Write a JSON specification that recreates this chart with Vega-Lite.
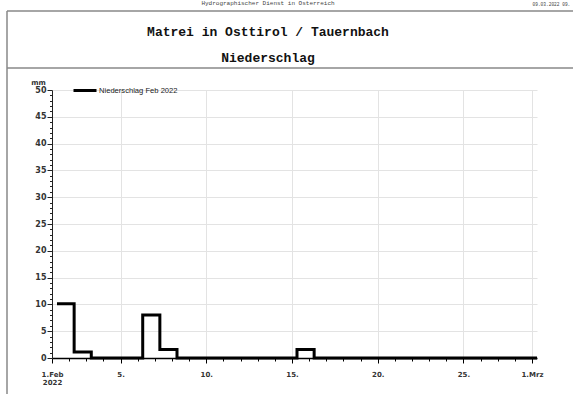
{
  "$schema": "https://vega.github.io/schema/vega-lite/v6.json",
  "width": 485,
  "height": 268,
  "autosize": {"type": "none"},
  "padding": {"left": 52, "top": 90, "right": 36, "bottom": 36},
  "background": "white",
  "config": {"view": {"stroke": null}},
  "title": {
    "text": "Hydrographischer Dienst in Osterreich",
    "subtitle": ["Matrei in Osttirol / Tauernbach", "Niederschlag"],
    "anchor": "middle",
    "frame": "group",
    "dx": -26.5,
    "offset": -63.5,
    "font": "Liberation Mono",
    "fontSize": 6,
    "fontWeight": "normal",
    "color": "#444",
    "subtitleFont": "Liberation Mono",
    "subtitleFontSize": 13,
    "subtitleFontWeight": "bold",
    "subtitleColor": "#111",
    "subtitleLineHeight": 25.5,
    "subtitlePadding": 20
  },
  "resolve": {"axis": {"x": "independent", "y": "independent"}},
  "layer": [
    {
      "data": {"values": [{}]},
      "mark": {"type": "rule", "color": "#888", "strokeWidth": 1.5},
      "encoding": {
        "x": {"datum": {"year": 2022, "month": 1, "date": 29, "hours": 9}, "type": "temporal",
          "axis": {"orient": "top", "domain": false, "ticks": false, "labels": false, "grid": false,
            "title": "09.03.2022 09.", "titleX": 480, "titleY": -85, "titleAlign": "left", "titleBaseline": "alphabetic", "titleAngle": 0,
            "titleFont": "Liberation Mono", "titleFontSize": 4.5, "titleFontWeight": "normal", "titleColor": "#444"}},
        "x2": {"datum": {"year": 2022, "month": 3, "date": 6}},
        "y": {"datum": 64.74, "type": "quantitative", "axis": null}
      }
    },
    {
      "data": {"values": [{}]},
      "mark": {"type": "rule", "color": "#888", "strokeWidth": 1.5},
      "encoding": {
        "x": {"datum": {"year": 2022, "month": 1, "date": 29, "hours": 9}, "type": "temporal", "axis": null},
        "x2": {"datum": {"year": 2022, "month": 3, "date": 6}},
        "y": {"datum": 54.1, "type": "quantitative", "axis": null}
      }
    },
    {
      "data": {"values": [{}]},
      "mark": {"type": "rule", "color": "#888", "strokeWidth": 1.5},
      "encoding": {
        "x": {"datum": {"year": 2022, "month": 1, "date": 29, "hours": 9}, "type": "temporal", "axis": null},
        "y": {"datum": 64.74, "type": "quantitative", "axis": null},
        "y2": {"datum": -12}
      }
    },
    {
      "data": {
        "values": [
          {"t": "2022-02-01T07:00:00", "mm": 10.1},
          {"t": "2022-02-02T07:00:00", "mm": 1.1},
          {"t": "2022-02-03T07:00:00", "mm": 0},
          {"t": "2022-02-04T07:00:00", "mm": 0},
          {"t": "2022-02-05T07:00:00", "mm": 0},
          {"t": "2022-02-06T07:00:00", "mm": 8.0},
          {"t": "2022-02-07T07:00:00", "mm": 1.6},
          {"t": "2022-02-08T07:00:00", "mm": 0},
          {"t": "2022-02-09T07:00:00", "mm": 0},
          {"t": "2022-02-10T07:00:00", "mm": 0},
          {"t": "2022-02-11T07:00:00", "mm": 0},
          {"t": "2022-02-12T07:00:00", "mm": 0},
          {"t": "2022-02-13T07:00:00", "mm": 0},
          {"t": "2022-02-14T07:00:00", "mm": 0},
          {"t": "2022-02-15T07:00:00", "mm": 1.6},
          {"t": "2022-02-16T07:00:00", "mm": 0},
          {"t": "2022-02-17T07:00:00", "mm": 0},
          {"t": "2022-02-18T07:00:00", "mm": 0},
          {"t": "2022-02-19T07:00:00", "mm": 0},
          {"t": "2022-02-20T07:00:00", "mm": 0},
          {"t": "2022-02-21T07:00:00", "mm": 0},
          {"t": "2022-02-22T07:00:00", "mm": 0},
          {"t": "2022-02-23T07:00:00", "mm": 0},
          {"t": "2022-02-24T07:00:00", "mm": 0},
          {"t": "2022-02-25T07:00:00", "mm": 0},
          {"t": "2022-02-26T07:00:00", "mm": 0},
          {"t": "2022-02-27T07:00:00", "mm": 0},
          {"t": "2022-02-28T07:00:00", "mm": 0},
          {"t": "2022-03-01T07:00:00", "mm": 0}
        ]
      },
      "mark": {"type": "line", "interpolate": "step-after", "strokeWidth": 3, "strokeJoin": "miter"},
      "encoding": {
        "x": {
          "field": "t", "type": "temporal",
          "scale": {"domain": [{"year": 2022, "month": 2, "date": 1}, {"year": 2022, "month": 3, "date": 1, "hours": 7}], "nice": false},
          "axis": {
            "orient": "bottom", "title": null,
            "tickCount": {"interval": "day", "step": 1},
            "labelExpr": "date(datum.value)===1 ? (month(datum.value)===1 ? ['1.Feb','2022'] : '1.Mrz') : (date(datum.value)%5===0 ? date(datum.value)+'.' : '')",
            "tickSize": {"condition": {"test": "date(datum.value)===1 || date(datum.value)%5===0", "value": 5}, "value": 3},
            "tickColor": "#000", "tickWidth": 1,
            "domainColor": "#000", "domainWidth": 1.5,
            "grid": true, "gridColor": "#e3e3e3", "gridWidth": 1,
            "gridOpacity": {"condition": {"test": "date(datum.value)%5===0 || month(datum.value)===2", "value": 1}, "value": 0},
            "labelFont": "DejaVu Sans", "labelFontSize": 7, "labelFontWeight": "bold", "labelColor": "#333",
            "labelPadding": 7, "labelLineHeight": 8, "labelFlush": false, "labelOverlap": false, "labelBaseline": "top", "labelAngle": 0
          }
        },
        "y": {
          "field": "mm", "type": "quantitative",
          "scale": {"domain": [0, 50], "nice": false},
          "axis": {
            "tickCount": 50,
            "title": "mm", "titleAngle": 0, "titleX": -14, "titleY": -8, "titleAlign": "center", "titleBaseline": "middle",
            "titleFont": "DejaVu Sans", "titleFontSize": 7, "titleFontWeight": "bold", "titleColor": "#333",
            "labelExpr": "datum.value%5===0 ? datum.label : ''",
            "tickSize": {"condition": {"test": "datum.value%5===0", "value": 5}, "value": 2.5},
            "tickColor": "#222", "tickWidth": 1,
            "domainColor": "#222", "domainWidth": 1,
            "grid": true, "gridColor": "#e3e3e3", "gridWidth": 1,
            "gridOpacity": {"condition": {"test": "datum.value%5===0 && datum.value>0", "value": 1}, "value": 0},
            "labelFont": "DejaVu Sans", "labelFontSize": 8, "labelFontWeight": "bold", "labelColor": "#333",
            "labelPadding": 1, "labelOverlap": false, "labelFlush": false
          }
        },
        "color": {
          "datum": "Niederschlag Feb 2022", "type": "nominal",
          "scale": {"range": ["#000000"]},
          "legend": {
            "title": null, "orient": "none", "legendX": 20, "legendY": -12.5, "padding": 0,
            "symbolType": "stroke", "symbolSize": 529, "symbolStrokeWidth": 3, "symbolStrokeColor": "#000",
            "labelFont": "Liberation Sans", "labelFontSize": 7.6, "labelColor": "#222", "labelOffset": 1
          }
        }
      }
    }
  ]
}
